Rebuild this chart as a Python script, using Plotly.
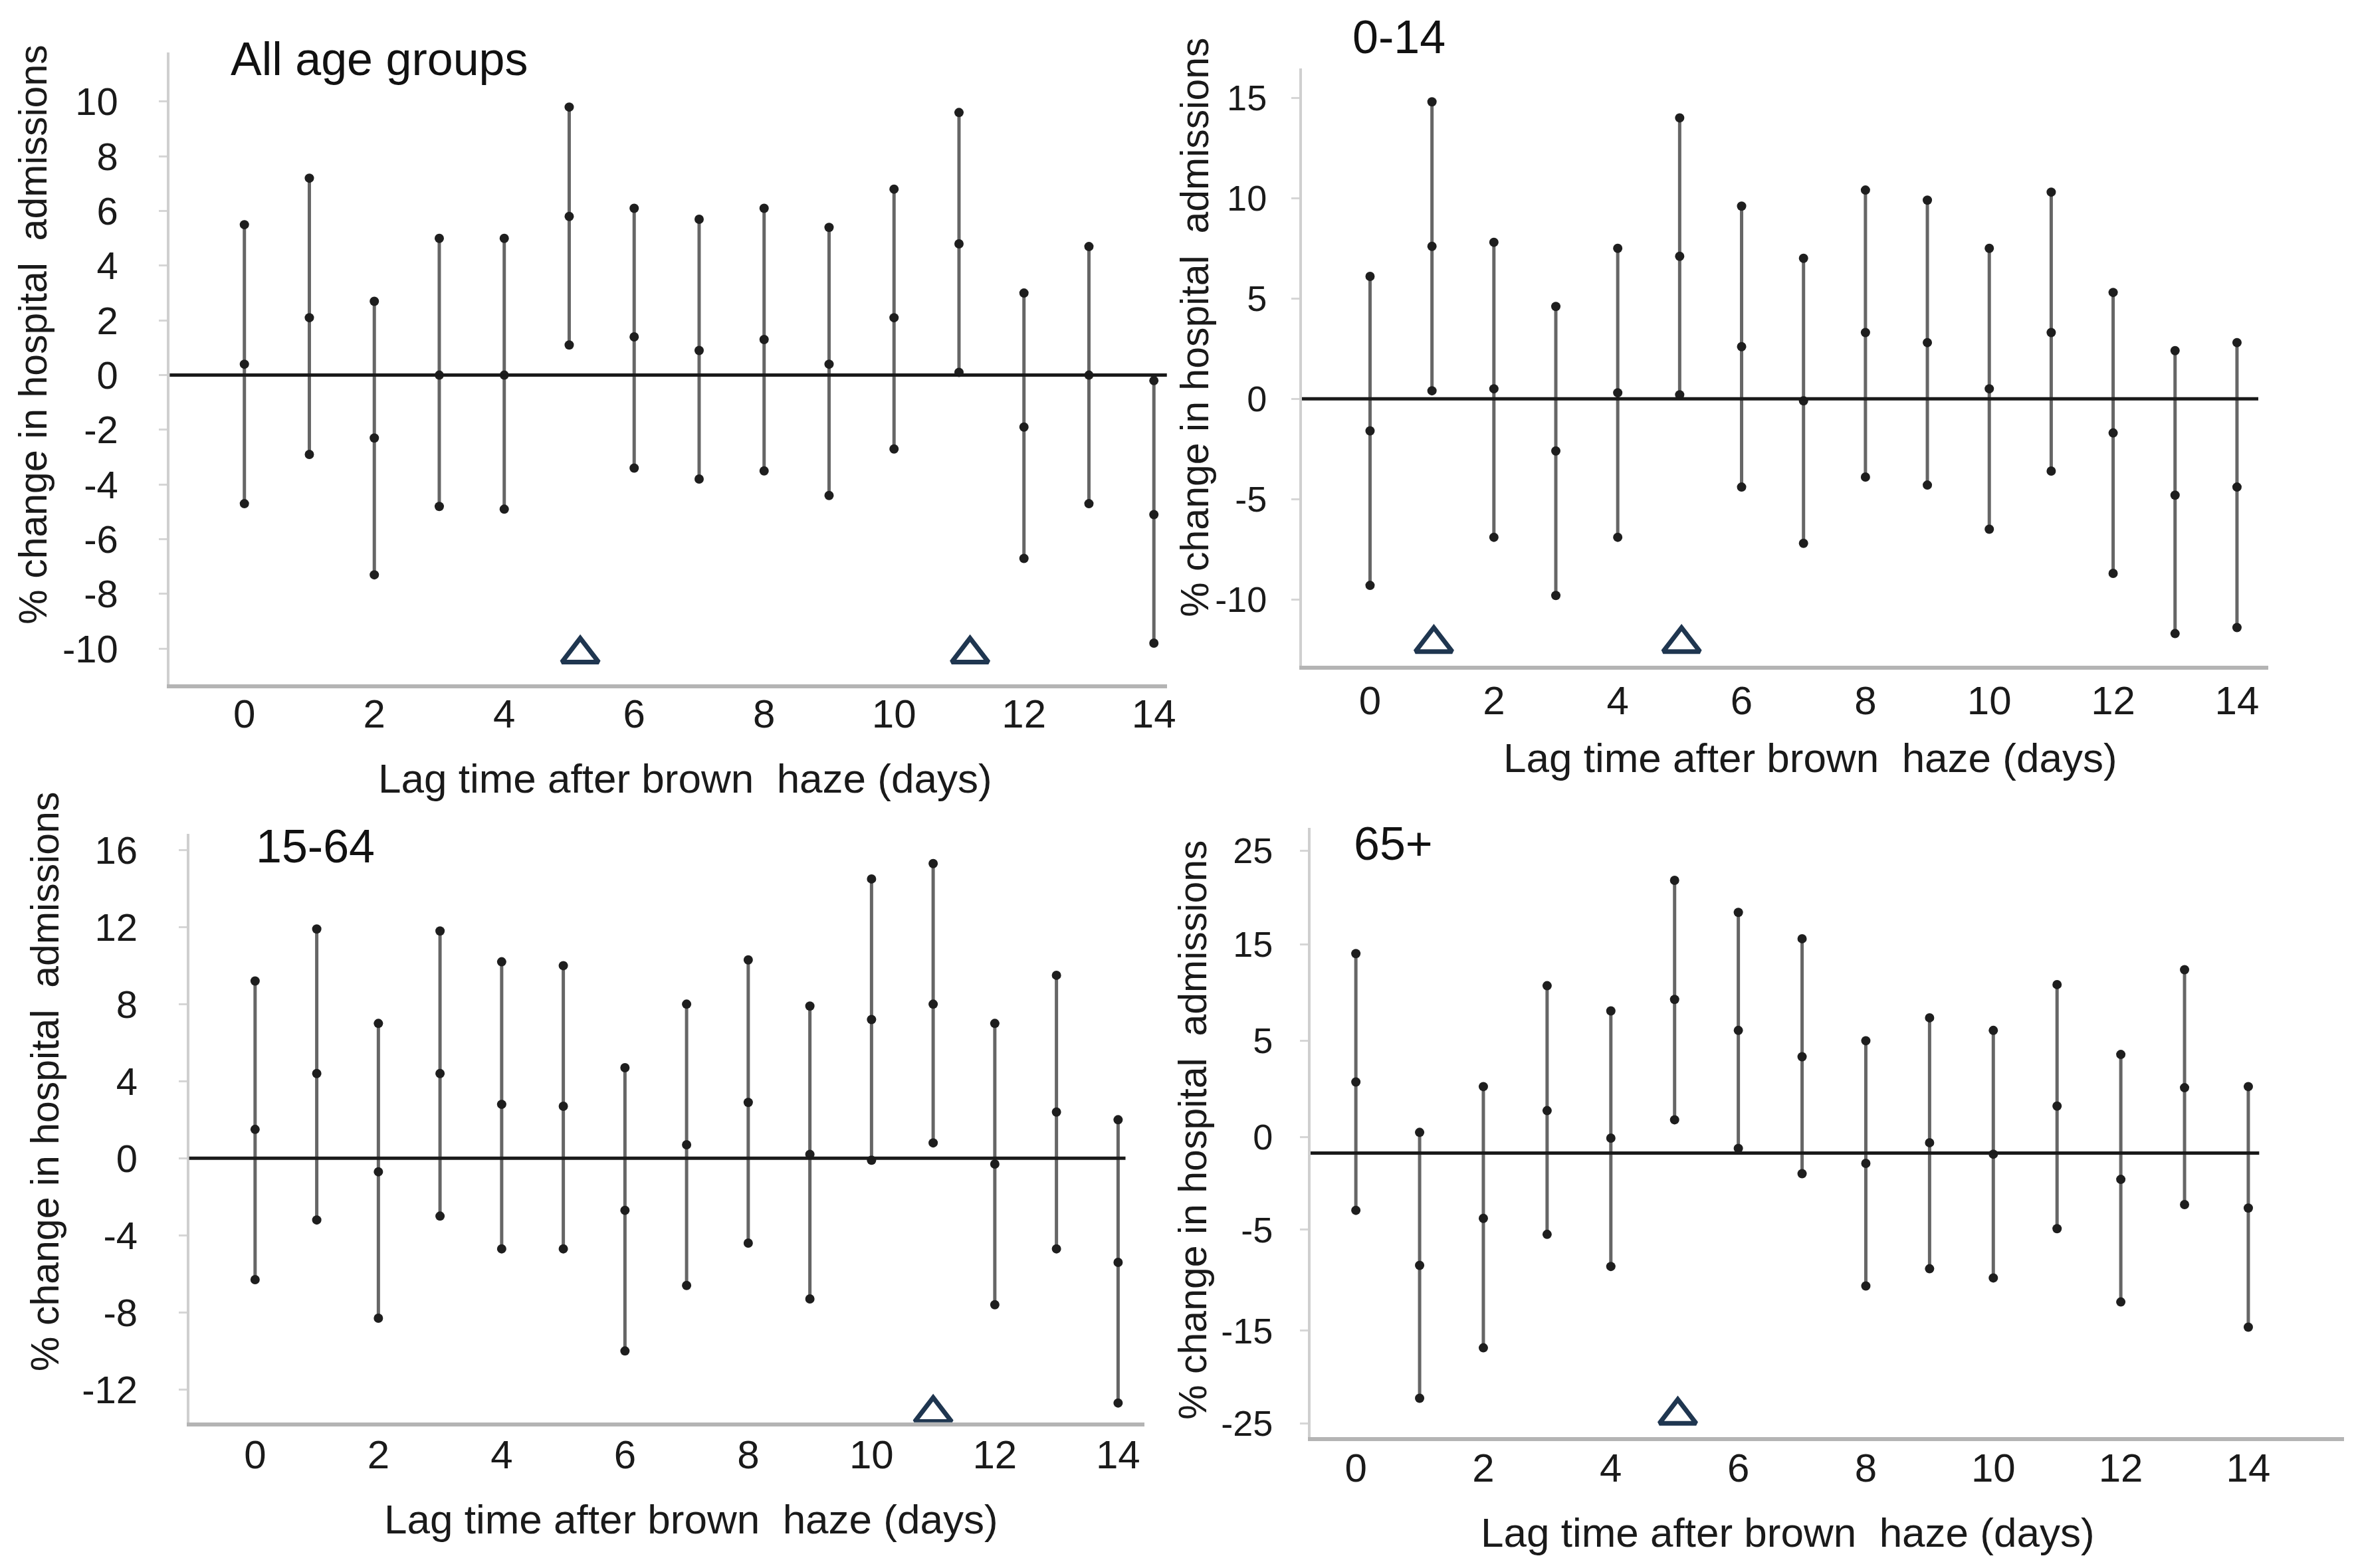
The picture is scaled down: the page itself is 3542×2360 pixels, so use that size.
import plotly.graph_objects as go

lags = list(range(15))
x_tick_labels = ["0", "2", "4", "6", "8", "10", "12", "14"]

# All age groups
all_hi = [5.5, 7.2, 2.7, 5.0, 5.0, 9.8, 6.1, 5.7, 6.1, 5.4, 6.8, 9.6, 3.0, 4.7, -0.2]
all_est = [0.4, 2.1, -2.3, 0.0, 0.0, 5.8, 1.4, 0.9, 1.3, 0.4, 2.1, 4.8, -1.9, 0.0, -5.1]
all_lo = [-4.7, -2.9, -7.3, -4.8, -4.9, 1.1, -3.4, -3.8, -3.5, -4.4, -2.7, 0.1, -6.7, -4.7, -9.8]
all_sig = [5, 11]
all_yticks = ["10", "8", "6", "4", "2", "0", "-2", "-4", "-6", "-8", "-10"]

# 0-14
kid_hi = [6.1, 14.8, 7.8, 4.6, 7.5, 14.0, 9.6, 7.0, 10.4, 9.9, 7.5, 10.3, 5.3, 2.4, 2.8]
kid_est = [-1.6, 7.6, 0.5, -2.6, 0.3, 7.1, 2.6, -0.1, 3.3, 2.8, 0.5, 3.3, -1.7, -4.8, -4.4]
kid_lo = [-9.3, 0.4, -6.9, -9.8, -6.9, 0.2, -4.4, -7.2, -3.9, -4.3, -6.5, -3.6, -8.7, -11.7, -11.4]
kid_sig = [1, 5]
kid_yticks = ["15", "10", "5", "0", "-5", "-10"]

# 15-64
adult_hi = [9.2, 11.9, 7.0, 11.8, 10.2, 10.0, 4.7, 8.0, 10.3, 7.9, 14.5, 15.3, 7.0, 9.5, 2.0]
adult_est = [1.5, 4.4, -0.7, 4.4, 2.8, 2.7, -2.7, 0.7, 2.9, 0.2, 7.2, 8.0, -0.3, 2.4, -5.4]
adult_lo = [-6.3, -3.2, -8.3, -3.0, -4.7, -4.7, -10.0, -6.6, -4.4, -7.3, -0.1, 0.8, -7.6, -4.7, -12.7]
adult_sig = [11]
adult_yticks = ["16", "12", "8", "4", "0", "-4", "-8", "-12"]

# 65+
old_hi = [17.4, 1.8, 5.8, 14.6, 12.4, 23.8, 21.0, 18.7, 9.8, 11.8, 10.7, 14.7, 8.6, 16.0, 5.8]
old_est = [6.2, -9.8, -5.7, 3.7, 1.3, 13.4, 10.7, 8.4, -0.9, 0.9, -0.1, 4.1, -2.3, 5.7, -4.8]
old_lo = [-5.0, -21.4, -17.0, -7.1, -9.9, 2.9, 0.4, -1.8, -11.6, -10.1, -10.9, -6.6, -13.0, -4.5, -15.2]
old_sig = [5]
old_yticks = ["25", "15", "5", "0", "-5", "-15", "-25"]

W, H = 3542, 2360
TEXT_FONT = "Liberation Sans, Arial, sans-serif"
TICK_FONT = "Liberation Sans Narrow, Arial Narrow, Liberation Sans, Arial, sans-serif"

DX, DY = -0.002, 0.003  # small global nudge


def dom(a, b, d):
    return [a + d, b + d]


panels = [
    dict(name="All age groups", hi=all_hi, est=all_est, lo=all_lo, sig=all_sig,
         yticktext=all_yticks, ytickvals=[float(t) for t in all_yticks],
         xdom=dom(0.0721, 0.4974, DX), ydom=dom(0.5643, 0.9702, DY),
         xr=[-1.15, 14.2], yr=[-11.3, 11.8], tri_y=-10.2, tri_dx=0.17,
         zero_end=1.0, ystand=50, xstand=-14, ytick_size=58,
         title_xy=(0.0976, 0.9660), ytitle_xy=(0.0140, 0.789), xtitle_xy=(0.292, 0.504)),
    dict(name="0-14", hi=kid_hi, est=kid_est, lo=kid_lo, sig=kid_sig,
         yticktext=kid_yticks, ytickvals=[float(t) for t in kid_yticks],
         xdom=dom(0.5550, 0.9670, DX), ydom=dom(0.5762, 0.9597, DY),
         xr=[-1.1, 14.5], yr=[-13.3, 16.45], tri_y=-12.2, tri_dx=0.03,
         zero_end=0.99, ystand=26, xstand=-6, ytick_size=54,
         title_xy=(0.5759, 0.9800), ytitle_xy=(0.5095, 0.7937), xtitle_xy=(0.7717, 0.5170)),
    dict(name="15-64", hi=adult_hi, est=adult_est, lo=adult_lo, sig=adult_sig,
         yticktext=adult_yticks, ytickvals=[float(t) for t in adult_yticks],
         xdom=dom(0.0804, 0.4879, DX), ydom=dom(0.0902, 0.4683, DY),
         xr=[-1.07, 14.43], yr=[-13.7, 16.85], tri_y=-13.25, tri_dx=0.0,
         zero_end=0.98, ystand=50, xstand=-10, ytick_size=58,
         title_xy=(0.1084, 0.4600), ytitle_xy=(0.0190, 0.309), xtitle_xy=(0.2946, 0.0278)),
    dict(name="65+", hi=old_hi, est=old_est, lo=old_lo, sig=old_sig,
         yticktext=old_yticks, ytickvals=[26.4, 18.2, 9.8, 1.4, -6.7, -15.5, -23.6],
         xdom=dom(0.5587, 0.9994, DX), ydom=dom(0.0806, 0.4722, DY),
         xr=[-0.71, 15.5], yr=[-24.8, 28.4], tri_y=-22.9, tri_dx=0.05,
         zero_end=0.918, ystand=30, xstand=-12, ytick_size=54,
         title_xy=(0.5765, 0.4620), ytitle_xy=(0.5083, 0.278), xtitle_xy=(0.7621, 0.0192)),
]

fig = go.Figure()
annotations = []
shapes = []
layout_axes = {}

for i, p in enumerate(panels, start=1):
    xa = "x" if i == 1 else f"x{i}"
    ya = "y" if i == 1 else f"y{i}"
    xkey = "xaxis" if i == 1 else f"xaxis{i}"
    ykey = "yaxis" if i == 1 else f"yaxis{i}"

    # vertical interval lines
    seg_x, seg_y = [], []
    for lag, lo, hi in zip(lags, p["lo"], p["hi"]):
        seg_x += [lag, lag, None]
        seg_y += [lo, hi, None]
    fig.add_trace(go.Scatter(x=seg_x, y=seg_y, mode="lines", xaxis=xa, yaxis=ya,
                             line=dict(color="#666666", width=5), showlegend=False,
                             hoverinfo="skip"))
    # dots at lower, estimate, upper
    fig.add_trace(go.Scatter(x=lags * 3, y=p["lo"] + p["est"] + p["hi"], mode="markers",
                             xaxis=xa, yaxis=ya, showlegend=False,
                             marker=dict(color="#1e1e1e", size=14)))
    # significance triangles
    fig.add_trace(go.Scatter(x=[s + p["tri_dx"] for s in p["sig"]],
                             y=[p["tri_y"]] * len(p["sig"]), mode="markers",
                             xaxis=xa, yaxis=ya, showlegend=False, cliponaxis=True,
                             marker=dict(symbol="triangle-up-open", size=48,
                                         color="#1f3650", line=dict(width=7, color="#1f3650"))))

    layout_axes[xkey] = dict(
        domain=p["xdom"], range=p["xr"], anchor=ya,
        tickvals=[int(t) for t in x_tick_labels], ticktext=x_tick_labels,
        showgrid=False, zeroline=False, showline=True, linecolor="#b4b4b4", linewidth=6,
        ticks="outside", ticklen=1, tickcolor="rgba(0,0,0,0)", ticklabelstandoff=p["xstand"],
        tickfont=dict(family=TICK_FONT, size=60, color="#1a1a1a"),
    )
    layout_axes[ykey] = dict(
        domain=p["ydom"], range=p["yr"], anchor=xa,
        tickvals=p["ytickvals"], ticktext=p["yticktext"],
        showgrid=False, zeroline=False, showline=True, linecolor="#cfcfcf", linewidth=4,
        ticks="outside", ticklen=12, tickcolor="#d6d6d6", tickwidth=3,
        ticklabelstandoff=p["ystand"],
        tickfont=dict(family=TICK_FONT, size=p["ytick_size"], color="#1a1a1a"),
    )

    # reference line at zero
    shapes.append(dict(type="line", xref=f"{xa} domain", yref=ya, x0=0, x1=p["zero_end"],
                       y0=0, y1=0, line=dict(color="#1a1a1a", width=5)))

    annotations.append(dict(text=p["name"], xref="paper", yref="paper",
                            x=p["title_xy"][0] + DX, y=p["title_xy"][1] + DY,
                            xanchor="left", yanchor="middle", showarrow=False,
                            font=dict(family=TEXT_FONT, size=70, color="#111111")))
    annotations.append(dict(text="% change in hospital  admissions", xref="paper", yref="paper",
                            x=p["ytitle_xy"][0] + DX, y=p["ytitle_xy"][1] + DY, textangle=-90,
                            xanchor="center", yanchor="middle", showarrow=False,
                            font=dict(family=TEXT_FONT, size=59, color="#1a1a1a")))
    annotations.append(dict(text="Lag time after brown  haze (days)", xref="paper", yref="paper",
                            x=p["xtitle_xy"][0] + DX, y=p["xtitle_xy"][1] + DY,
                            xanchor="center", yanchor="middle", showarrow=False,
                            font=dict(family=TEXT_FONT, size=62, color="#1a1a1a")))

fig.update_layout(
    width=W, height=H,
    margin=dict(l=0, r=0, t=0, b=0),
    paper_bgcolor="white", plot_bgcolor="white",
    showlegend=False,
    annotations=annotations, shapes=shapes,
    **layout_axes,
)

fig.write_html("out.html")
